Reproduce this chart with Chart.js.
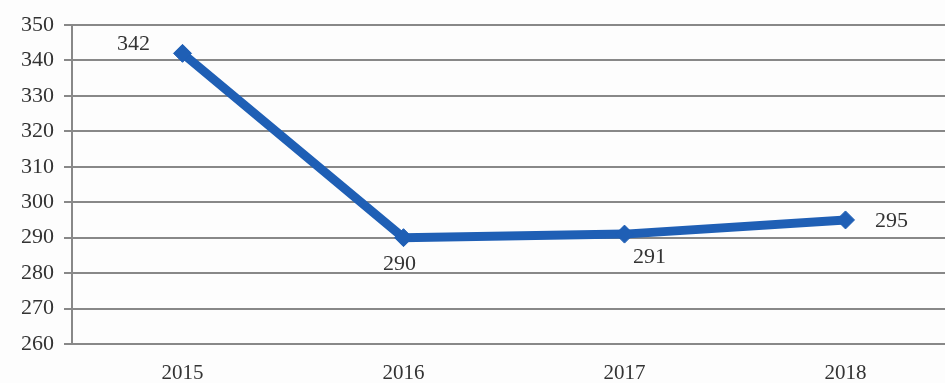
<!DOCTYPE html>
<html>
<head>
<meta charset="utf-8">
<script src="https://cdn.jsdelivr.net/npm/chart.js@4/dist/chart.umd.min.js"></script>
<style>
html,body{margin:0;padding:0;background:#fdfdfd;overflow:hidden;}
#wrap{width:945px;height:383px;position:relative;overflow:hidden;}
</style>
</head>
<body>
<div id="wrap"><canvas id="c" width="966" height="383"></canvas></div>
<script>
const categories = ["2015", "2016", "2017", "2018"];
const values = [342, 290, 291, 295];
const yTicks = [260, 270, 280, 290, 300, 310, 320, 330, 340, 350];

const labelPlugin = {
  id: 'pointLabels',
  afterDatasetsDraw(chart) {
    const ctx = chart.ctx;
    const meta = chart.getDatasetMeta(0);
    const offs = [[-49, -9], [-4, 27], [25, 23], [46, 1]];
    ctx.save();
    ctx.font = '22px "Liberation Serif", "Times New Roman", serif';
    ctx.fillStyle = '#333';
    ctx.textAlign = 'center';
    ctx.textBaseline = 'middle';
    meta.data.forEach((pt, i) => {
      const o = offs[i] || [0, -15];
      ctx.fillText(String(chart.data.datasets[0].data[i]), pt.x + o[0], pt.y + o[1]);
    });
    ctx.restore();
  }
};

new Chart(document.getElementById('c'), {
  type: 'line',
  data: {
    labels: categories,
    datasets: [{
      data: values,
      borderColor: '#1f5fb5',
      backgroundColor: '#1f5fb5',
      borderWidth: 9,
      pointStyle: 'rectRot',
      pointRadius: 9,
      pointBorderWidth: 1,
      tension: 0
    }]
  },
  options: {
    responsive: false,
    animation: false,
    layout: { padding: { top: 25, right: 0, left: 4, bottom: 0 } },
    plugins: { legend: { display: false }, tooltip: { enabled: false } },
    scales: {
      x: {
        offset: true,
        afterFit(axis) { axis.height = 39; },
        grid: { display: false, drawTicks: true, tickLength: 8 },
        border: { color: '#888', width: 2 },
        ticks: {
          color: '#333',
          padding: 9,
          font: { family: '"Liberation Serif", "Times New Roman", serif', size: 21 }
        }
      },
      y: {
        min: 260,
        max: 350,
        afterBuildTicks(axis) { axis.ticks = yTicks.map(v => ({ value: v })); },
        afterFit(axis) { axis.width = 68; },
        grid: { color: '#888', lineWidth: 2, tickLength: 8 },
        border: { color: '#888', width: 2 },
        ticks: {
          color: '#333',
          padding: 10,
          font: { family: '"Liberation Serif", "Times New Roman", serif', size: 22 }
        }
      }
    }
  },
  plugins: [labelPlugin]
});
</script>
</body>
</html>
